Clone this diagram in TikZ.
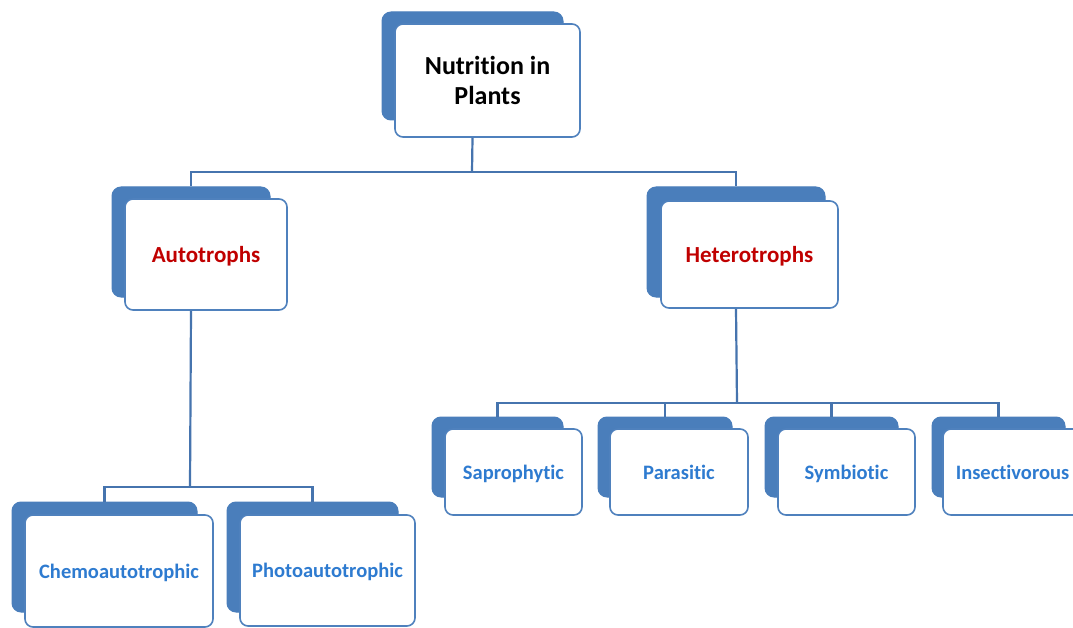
\documentclass[tikz,border=0pt]{standalone}
\usepackage{fontspec}
\setmainfont{Carlito}[Ligatures={NoCommon}]
\definecolor{boxblue}{HTML}{4F81BD}
\definecolor{backblue}{HTML}{4A7EBB}
\definecolor{linkblue}{HTML}{4674AE}
\definecolor{txtred}{HTML}{C00000}
\definecolor{txtblue}{HTML}{2E7BD0}
\tikzset{
  backbox/.style={draw=backblue, fill=backblue, rounded corners=9pt, line width=1pt, inner sep=0pt},
  frontbox/.style={draw=boxblue, fill=white, rounded corners=8pt, line width=1.6pt, inner sep=0pt, align=center, font=\bfseries},
  roottxt/.style={font=\fontsize{26}{30}\selectfont\bfseries, text=black},
  redtxt/.style={font=\fontsize{23}{27}\selectfont\bfseries, text=txtred, text depth=0pt},
  bluetxt/.style={font=\fontsize{20.5}{24}\selectfont\bfseries, text=txtblue, text depth=0pt},
  link/.style={draw=linkblue, line width=2.2pt}
}
% \mybx{name}{x1}{y1}{x2}{y2}{style}{text}
\newcommand{\mybx}[7]{%
  \node[#6, minimum width={(#4-#2)*1pt}, minimum height={(#5-#3)*1pt}] (#1) at ({(#2+#4)/2},{(#3+#5)/2}) {#7};}
\begin{document}
\begin{tikzpicture}[x=1pt,y=-1pt]
\useasboundingbox[fill=white] (0,0) rectangle (1073,628);
% back boxes
\mybx{rootb}{382}{12}{563}{120}{backbox}{}
\mybx{autob}{112}{187}{270}{297}{backbox}{}
\mybx{heterob}{647}{187}{825}{297}{backbox}{}
\mybx{sapb}{432}{417}{563}{497}{backbox}{}
\mybx{parab}{598}{417}{732}{497}{backbox}{}
\mybx{symb}{765}{417}{898}{497}{backbox}{}
\mybx{insb}{932}{417}{1065}{497}{backbox}{}
\mybx{chemob}{12}{502}{197}{612}{backbox}{}
\mybx{photob}{227}{502}{398}{612}{backbox}{}
% front boxes
\mybx{root}{395}{24}{580}{137}{frontbox,roottxt}{Nutrition in\\Plants}
\mybx{auto}{125}{199}{287}{310}{frontbox,redtxt}{Autotrophs}
\mybx{hetero}{661}{201}{838}{308}{frontbox,redtxt}{Heterotrophs}
\mybx{sap}{445}{429}{582}{515}{frontbox,bluetxt}{Saprophytic}
\mybx{para}{610}{429}{748}{515}{frontbox,bluetxt}{Parasitic}
\mybx{sym}{778}{429}{915}{515}{frontbox,bluetxt}{Symbiotic}
\mybx{ins}{943}{429}{1082}{515}{frontbox,bluetxt}{Insectivorous}
\mybx{chemo}{25}{515}{213}{627}{frontbox,bluetxt}{Chemoautotrophic}
\mybx{photo}{240}{515}{415}{626}{frontbox,bluetxt}{Photoautotrophic}
% junctions
\coordinate (j1) at (472,172);
\coordinate (j2) at (737,403);
\coordinate (j3) at (190,487);
% connectors
\draw[link] (rootb.center |- root.south) -- (j1);
\draw[link] (autob.north) |- (j1) -| (heterob.north);
\draw[link] (heterob.center |- hetero.south) -- (j2);
\draw[link] (sapb.north) |- (j2) -| (insb.north);
\draw[link] (parab.north) -- (parab.north |- j2);
\draw[link] (symb.north) -- (symb.north |- j2);
\draw[link] (autob.center |- auto.south) -- (j3);
\draw[link] (chemob.north) |- (j3) -| (photob.north);
\end{tikzpicture}
\end{document}
